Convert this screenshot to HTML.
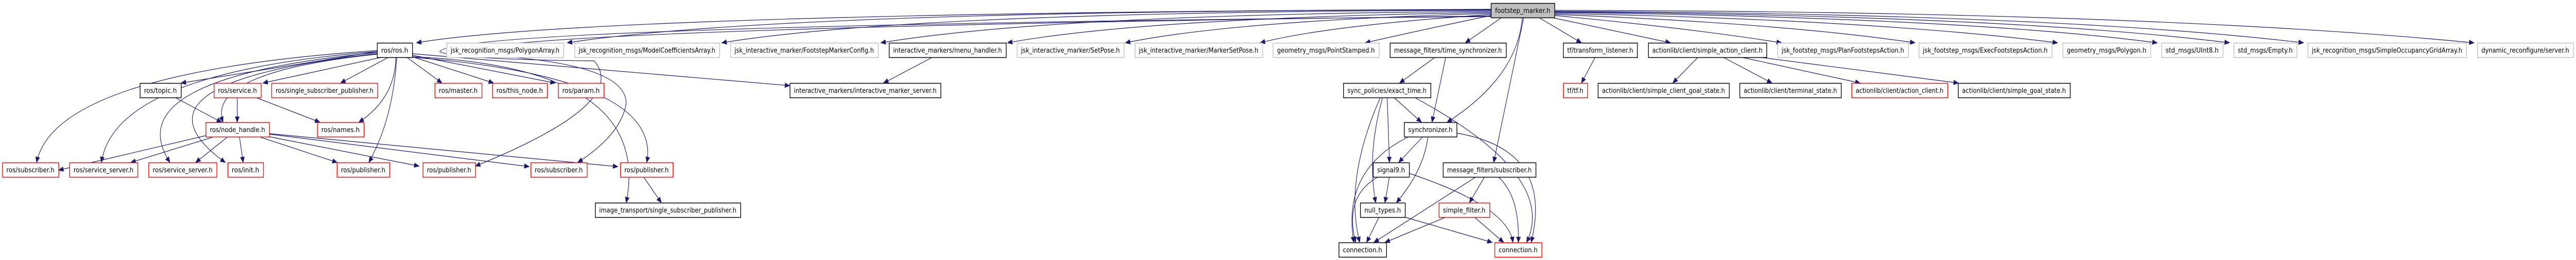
<!DOCTYPE html>
<html><head><meta charset="utf-8"><style>
html,body{margin:0;padding:0;background:#fff;width:100%;height:100%;overflow:hidden}
svg{display:block;position:absolute;left:0;top:0;width:100vw;height:100vh;max-width:5636px;max-height:504px}
</style></head><body>
<svg id="g" xmlns="http://www.w3.org/2000/svg" viewBox="0 0 5636 504" preserveAspectRatio="none">
<defs><marker id="a" markerWidth="12" markerHeight="10" refX="11" refY="5" orient="auto" markerUnits="userSpaceOnUse"><path d="M0,0 L12,5 L0,10 Z" fill="#191970"/></marker></defs>
<g id="e" fill="none" stroke="#191970" stroke-width="1.2" marker-end="url(#a)"></g>
<g id="n"></g>
</svg>
<script>
var R=[6,83,161,237,315,393,470],H=28;
var N=[
["footstep_marker.h",3262,3401,0,"f"],
["ros/ros.h",825,902,1,"b"],
["jsk_recognition_msgs/PolygonArray.h",977,1233,1,"g"],
["jsk_recognition_msgs/ModelCoefficientsArray.h",1257,1574,1,"g"],
["jsk_interactive_marker/FootstepMarkerConfig.h",1598,1921,1,"g"],
["interactive_markers/menu_handler.h",1945,2201,1,"b"],
["jsk_interactive_marker/SetPose.h",2225,2459,1,"g"],
["jsk_interactive_marker/MarkerSetPose.h",2483,2762,1,"g"],
["geometry_msgs/PointStamped.h",2785,3017,1,"g"],
["message_filters/time_synchronizer.h",3041,3295,1,"b"],
["tf/transform_listener.h",3420,3582,1,"b"],
["actionlib/client/simple_action_client.h",3606,3865,1,"b"],
["jsk_footstep_msgs/PlanFootstepsAction.h",3889,4175,1,"g"],
["jsk_footstep_msgs/ExecFootstepsAction.h",4198,4489,1,"g"],
["geometry_msgs/Polygon.h",4513,4705,1,"g"],
["std_msgs/UInt8.h",4729,4863,1,"g"],
["std_msgs/Empty.h",4887,5025,1,"g"],
["jsk_recognition_msgs/SimpleOccupancyGridArray.h",5049,5396,1,"g"],
["dynamic_reconfigure/server.h",5420,5630,1,"g"],
["ros/topic.h",306,396,2,"b"],
["ros/service.h",468,571,2,"r"],
["ros/single_subscriber_publisher.h",594,826,2,"r"],
["ros/master.h",951,1054,2,"r"],
["ros/this_node.h",1077,1197,2,"r"],
["ros/param.h",1221,1321,2,"r"],
["interactive_markers/interactive_marker_server.h",1728,2058,2,"b"],
["sync_policies/exact_time.h",2939,3130,2,"b"],
["tf/tf.h",3420,3473,2,"r"],
["actionlib/client/simple_client_goal_state.h",3496,3783,2,"b"],
["actionlib/client/terminal_state.h",3806,4028,2,"b"],
["actionlib/client/action_client.h",4051,4261,2,"r"],
["actionlib/client/simple_goal_state.h",4284,4529,2,"b"],
["ros/node_handle.h",450,589,3,"r"],
["ros/names.h",694,796,3,"r"],
["synchronizer.h",3072,3187,3,"b"],
["ros/subscriber.h",5,128,4,"r"],
["ros/service_server.h",152,301,4,"r"],
["ros/service_server.h",325,474,4,"r"],
["ros/init.h",498,576,4,"r"],
["ros/publisher.h",737,852,4,"r"],
["ros/publisher.h",925,1040,4,"r"],
["ros/subscriber.h",1161,1284,4,"r"],
["ros/publisher.h",1357,1472,4,"r"],
["signal9.h",3004,3083,4,"b"],
["message_filters/subscriber.h",3157,3360,4,"b"],
["image_transport/single_subscriber_publisher.h",1302,1620,5,"b"],
["null_types.h",2976,3074,5,"b"],
["simple_filter.h",3148,3259,5,"r"],
["connection.h",2929,3033,6,"b"],
["connection.h",3270,3373,6,"r"]
];
var E=[
"M3262,30 Q3100,60 2987,83","M3262,28 Q2900,50 2757,83","M3262,26 Q2700,40 2462,83","M3262,24 Q2500,35 2204,83",
"M3262,22 Q2300,28 1927,83","M3262,20 Q2000,22 1579,83","M3262,19 Q1700,20 1241,83","M3262,18 Q1300,25 911,83",
"M3401,30 Q3700,55 3898,83","M3401,28 Q3900,45 4190,83","M3401,26 Q4100,38 4502,83","M3401,24 Q4300,34 4720,83",
"M3401,23 Q4400,30 4878,83","M3401,22 Q4500,26 5040,83","M3401,20 Q4700,22 5413,83",
"M3287,33 L3206,83","M3331,33 Q3320,150 3166,237","M3334,33 L3268,315","M3365,33 L3460,83","M3390,33 L3655,83",
"M3262,32 Q1000,50 962,100 Q990,115 1300,118 Q1380,200 1040,322",
"M3262,31 Q1050,55 1000,105 Q1370,115 1370,200 Q1360,260 1264,315",
"M825,100 L396,161","M835,111 L575,161","M850,111 L745,161","M890,111 L967,161","M902,110 L1080,161","M902,107 L1215,161",
"M825,105 Q450,140 488,237","M866,111 Q865,190 785,237",
"M825,98 Q120,140 80,315","M825,100 Q250,140 222,315","M825,102 Q250,150 372,315","M825,104 Q250,160 493,315",
"M868,111 Q860,230 807,315","M902,111 Q1450,150 1415,315","M902,110 Q1430,130 1370,393","M902,104 L1728,166",
"M383,189 L485,237","M519,189 L519,237","M560,189 L700,237",
"M450,263 L128,330","M465,266 L286,315","M497,266 L428,315","M524,266 L532,315","M570,266 L738,315","M589,265 L917,322","M589,260 L1158,323","M589,259 L1352,323",
"M1408,343 L1447,393",
"M2040,111 L1933,161",
"M3140,111 L3062,161","M3163,111 L3133,237",
"M3050,189 L3110,237","M3035,189 L3040,315","M3025,189 Q2990,300 3010,393","M3020,189 Q2940,350 2975,470","M3095,189 Q3410,340 3340,470",
"M3112,266 L3060,315","M3124,266 Q3115,330 3055,393","M3080,266 Q2935,330 2962,470","M3187,258 Q3400,290 3350,470",
"M3040,343 L3030,393","M3015,343 Q2940,380 2966,470","M3083,336 Q3300,400 3310,470",
"M3017,421 L2990,470","M3074,421 L3265,470",
"M3229,343 L3006,470","M3248,343 L3215,393","M3278,343 Q3325,380 3322,470",
"M3163,421 L3030,470","M3226,421 L3290,470",
"M3490,111 L3460,161","M3715,111 L3660,161","M3770,111 L3877,161","M3810,111 L4070,161","M3850,111 L4285,161"
];
var ns="http://www.w3.org/2000/svg",eg=document.getElementById("e"),ng=document.getElementById("n");
E.forEach(function(d){var p=document.createElementNS(ns,"path");p.setAttribute("d",d);eg.appendChild(p);});
N.forEach(function(n){
var x=n[1],w=n[2]-n[1],y=R[n[3]];
var r=document.createElementNS(ns,"rect");
r.setAttribute("x",x+0.5);r.setAttribute("y",y+0.5);r.setAttribute("width",w);r.setAttribute("height",H);
var s=n[4];
r.setAttribute("fill",s=="f"?"#bfbfbf":"#fff");
r.setAttribute("stroke",s=="r"?"#ff0000":(s=="g"?"#bfbfbf":"#000"));
r.setAttribute("stroke-width","1.5");
ng.appendChild(r);
var t=document.createElementNS(ns,"text");
t.setAttribute("x",x+w/2);t.setAttribute("y",y+19);t.setAttribute("text-anchor","middle");
t.setAttribute("font-family","'DejaVu Sans','Liberation Sans',sans-serif");t.setAttribute("font-size","13");
t.setAttribute("textLength",w-18);t.setAttribute("lengthAdjust","spacingAndGlyphs");
t.textContent=n[0];ng.appendChild(t);
});
</script>
</body></html>
